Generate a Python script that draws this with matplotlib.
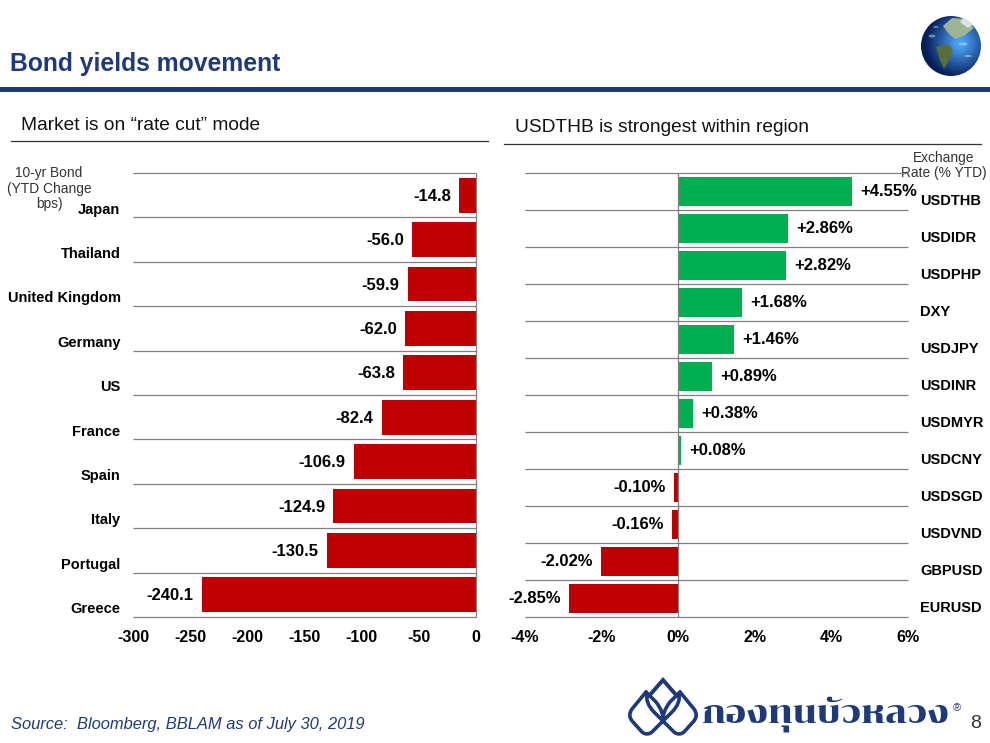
import matplotlib
matplotlib.use('Agg')
import matplotlib.pyplot as plt
from matplotlib.patches import Circle, Ellipse, Polygon, PathPatch
from matplotlib.path import Path
import numpy as np

plt.rcParams['font.family'] = ['Liberation Sans', 'DejaVu Sans']

# 10-yr bond yields, YTD change in bps
countries = ['Japan', 'Thailand', 'United Kingdom', 'Germany', 'US',
             'France', 'Spain', 'Italy', 'Portugal', 'Greece']
bond_change = [-14.8, -56.0, -59.9, -62.0, -63.8, -82.4, -106.9, -124.9, -130.5, -240.1]
bond_ticks = [-300, -250, -200, -150, -100, -50, 0]

# exchange rates, % YTD
pairs = ['USDTHB', 'USDIDR', 'USDPHP', 'DXY', 'USDJPY', 'USDINR',
         'USDMYR', 'USDCNY', 'USDSGD', 'USDVND', 'GBPUSD', 'EURUSD']
fx_change = [4.55, 2.86, 2.82, 1.68, 1.46, 0.89, 0.38, 0.08, -0.10, -0.16, -2.02, -2.85]
fx_ticks = [-4, -2, 0, 2, 4, 6]

NAVY = '#1F3A7A'
RED = '#C00000'
GREEN = '#00B050'
GRID = '#808080'
W, H = 990, 743

fig = plt.figure(figsize=(W / 100, H / 100), dpi=100)

# overlay in pixel coordinates for the slide furniture
bg = fig.add_axes([0, 0, 1, 1])
bg.axis('off')


def panel(x0, x1, y0, y1):
    return fig.add_axes([x0 / W, 1 - y1 / H, (x1 - x0) / W, (y1 - y0) / H])


def draw_panel(ax, values, xlim, ticks, fmt):
    n = len(values)
    y = np.arange(n) + 0.5
    ax.barh(y, values, height=0.78, color=[GREEN if v > 0 else RED for v in values],
            edgecolor='none', zorder=3)
    ax.set_xlim(*xlim)
    ax.set_ylim(n, 0)
    ax.set_yticks([])
    for s in ax.spines.values():
        s.set_visible(False)
    ax.patch.set_alpha(0)
    ax.hlines(np.arange(n + 1), xlim[0], xlim[1], color=GRID, lw=0.9, zorder=1, clip_on=False)
    ax.vlines(0, 0, n, color=GRID, lw=0.9, zorder=4, clip_on=False)
    ax.set_xticks(ticks)
    ax.set_xticklabels([fmt(t) for t in ticks], fontsize=11.5, fontweight='bold', color='black')
    ax.set_xticks([xlim[0], xlim[1]], minor=True)
    ax.tick_params(axis='x', which='major', length=0, pad=9.5)
    ax.tick_params(axis='x', which='minor', length=3.5, width=0.9, color=GRID)
    return y


# left panel
ax1 = panel(133, 476.3, 173, 617)
y1 = draw_panel(ax1, bond_change, (-300, 0), bond_ticks, lambda t: str(t))
for yy, name, v in zip(y1, countries, bond_change):
    ax1.annotate(f'{v:.1f}', (v, yy), xytext=(-6, -0.8), textcoords='offset points',
                 ha='right', va='center', fontsize=12, fontweight='bold', zorder=5)
    ax1.annotate(name, (0, yy), xycoords=('axes fraction', 'data'), xytext=(-9, -10.4),
                 textcoords='offset points', ha='right', va='center',
                 fontsize=10.5, fontweight='bold')

# right panel
ax2 = panel(525, 907.7, 173, 617)
y2 = draw_panel(ax2, fx_change, (-4, 6), fx_ticks, lambda t: f'{t}%')
for yy, name, v in zip(y2, pairs, fx_change):
    ax2.annotate(f'{v:+.2f}%', (v, yy), xytext=(6 if v > 0 else -6, 0), textcoords='offset points',
                 ha='left' if v > 0 else 'right', va='center', fontsize=12,
                 fontweight='bold', zorder=5)
    ax2.annotate(name, (1, yy), xycoords=('axes fraction', 'data'), xytext=(9.2, -7),
                 textcoords='offset points', ha='left', va='center',
                 fontsize=10.5, fontweight='bold')

# slide furniture, pixel coordinates from here on
bg.set_xlim(0, W)
bg.set_ylim(H, 0)
bg.add_patch(plt.Rectangle((0, 87), W, 5, color=NAVY, lw=0))
bg.text(10.5, 63.5, 'Bond yields movement', fontsize=17.8, fontweight='bold', color=NAVY, va='center')

bg.text(21, 125.5, 'Market is on “rate cut” mode', fontsize=13.8, color='#111111', va='center')
bg.plot([11, 488], [141, 141], color='#333333', lw=0.9)
bg.text(515, 127.5, 'USDTHB is strongest within region', fontsize=13.8, color='#111111', va='center')
bg.plot([504, 981], [144, 144], color='#333333', lw=0.9)

bg.text(49, 188.5, '10-yr Bond\n(YTD Change\nbps)', fontsize=9.9, color='#333333', ha='center',
        va='center', linespacing=1.17, zorder=6)
bg.text(944, 165.5, 'Exchange\nRate (% YTD)', fontsize=9.9, color='#333333', ha='center',
        va='center', linespacing=1.02, zorder=6)

bg.text(11, 725, 'Source:  Bloomberg, BBLAM as of July 30, 2019', fontsize=11.9, style='italic',
        color=NAVY, va='center')
bg.text(970, 723, '8', fontsize=14, color='#333333', va='center')

# logo: three overlapping petals plus the name
MID = 663
M, L, Q = Path.MOVETO, Path.LINETO, Path.CURVE3
leaf = [
    ((646, 692), M), ((632, 709), L), ((627, 716), Q), ((633, 722), Q), ((642, 732), L),
    ((647, 736), Q), ((652, 732), Q), ((672, 712), L), ((681, 703), Q), ((679, 693), Q),
]
inner = [
    ((646, 692), M), ((656, 702), L), ((664, 712), Q), ((663, 722), Q),
]
top = [((649, 696), M), ((663, 680), L), ((677, 696), L)]
for shape in (leaf, inner, top):
    pts, codes = zip(*shape)
    bg.add_patch(PathPatch(Path(pts, codes), fill=False, edgecolor=NAVY, lw=2.6, capstyle='round'))
    mirrored = [(2 * MID - x, y) for x, y in pts]
    bg.add_patch(PathPatch(Path(mirrored, codes), fill=False, edgecolor=NAVY, lw=2.6, capstyle='round'))
bg.text(825, 714, 'กองทุนบัวหลวง', family=['Chonburi', 'Kanit', 'Liberation Sans'],
        fontsize=22.6, color=NAVY, ha='center', va='center')
bg.text(957, 708, '®', fontsize=8, color=NAVY, ha='center', va='center')

# globe
gx, gy = np.meshgrid(np.linspace(-1, 1, 120), np.linspace(-1, 1, 120))
shade = np.clip(1.15 - np.hypot(gx - 0.3, gy + 0.1), 0, 1)
img = np.dstack([0.03 + 0.25 * shade, 0.12 + 0.50 * shade, 0.35 + 0.60 * shade])
im = bg.imshow(img, extent=(921, 981, 76, 16), zorder=2, aspect='auto')
clip = Circle((951, 46), 30, transform=bg.transData)
im.set_clip_path(clip)
land = [
    ([(936, 47), (948, 44), (953, 51), (949, 60), (944, 69), (940, 60)], '#5A6E3A'),
    ([(943, 26), (952, 18), (966, 19), (974, 28), (964, 36), (955, 39), (948, 33)], '#9DB596'),
    ([(964, 17), (974, 24), (968, 28), (960, 22)], '#DCE6DC'),
]
for pts, c in land:
    p = Polygon(pts, closed=True, facecolor=c, edgecolor='none', zorder=3)
    bg.add_patch(p)
    p.set_clip_path(clip)
for cx, cy, w, h in [(932, 36, 7, 3), (963, 44, 9, 3), (936, 27, 5, 2), (968, 56, 8, 2)]:
    bg.add_patch(Ellipse((cx, cy), w, h, facecolor='#C9DCEF', edgecolor='none', alpha=0.5, zorder=4))
bg.set_xlim(0, W)
bg.set_ylim(H, 0)

fig.savefig('out.png', dpi=100)
